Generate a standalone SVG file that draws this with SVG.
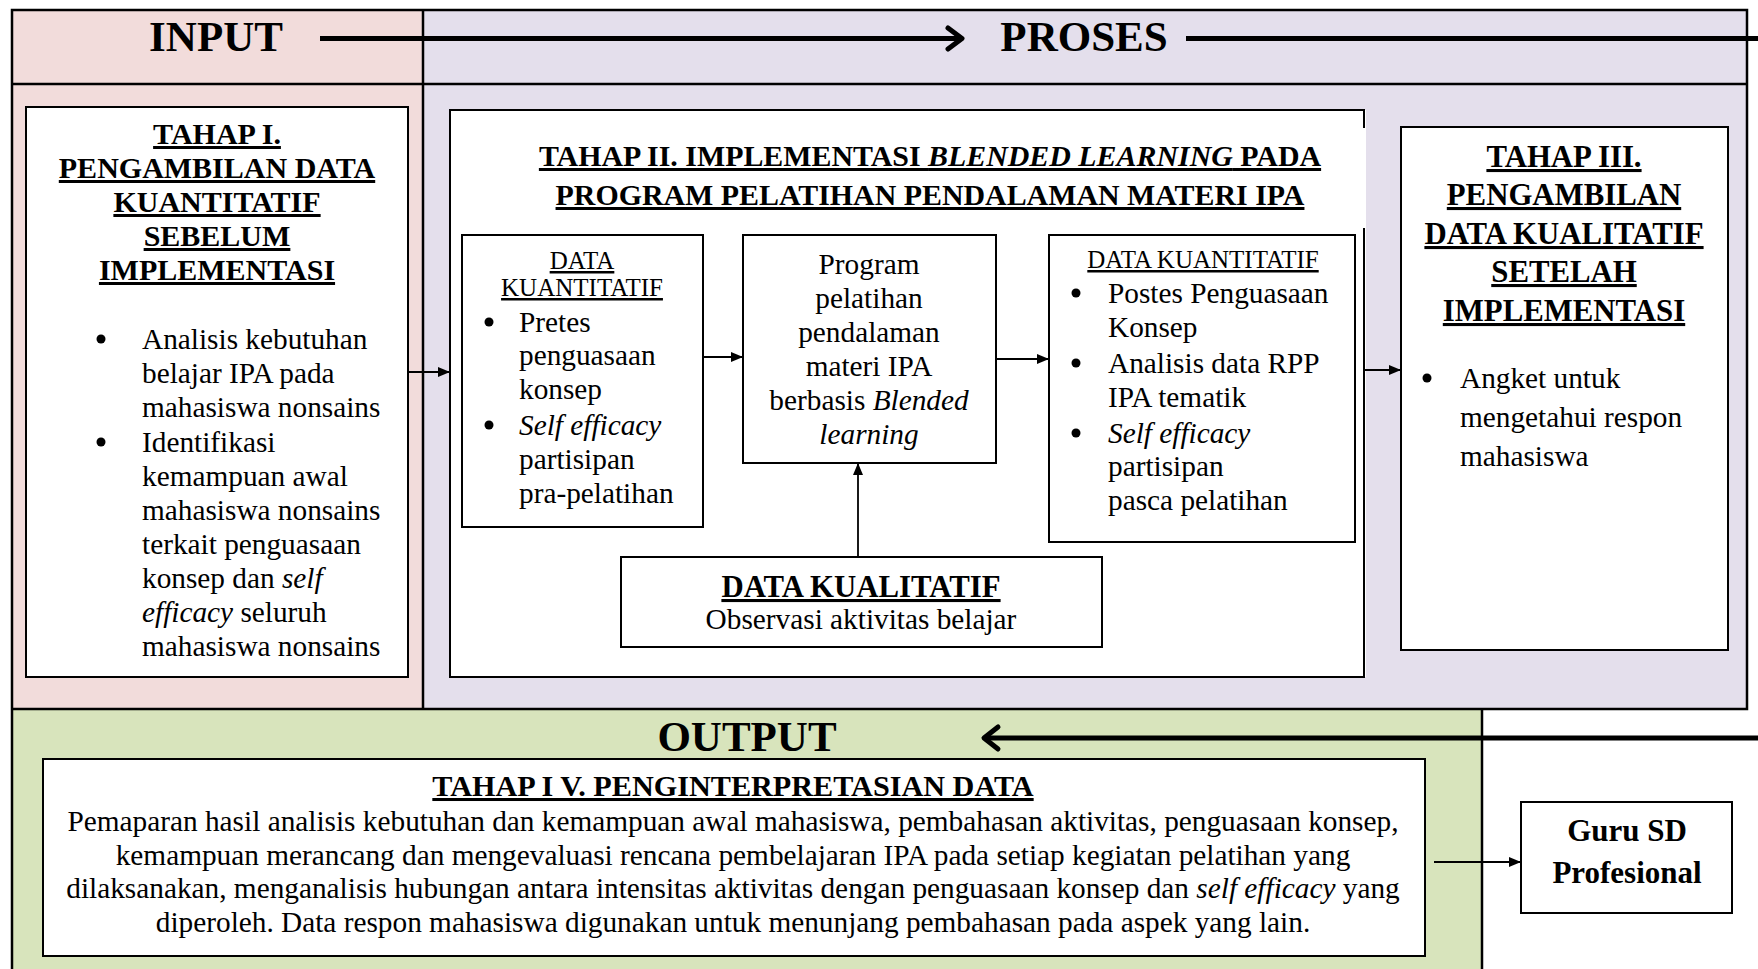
<svg xmlns="http://www.w3.org/2000/svg" width="1758" height="969" viewBox="0 0 1758 969">
<defs>
<style>
text{font-family:"Liberation Serif","Times New Roman",serif;fill:#000}
.b{font-weight:bold}
.u{text-decoration:underline}
.i{font-style:italic}
.t29{font-size:29.3px}
.t25{font-size:25px}
.hd{font-size:43px;font-weight:bold}
.dot{fill:#000}
.box{fill:#fff;stroke:#000;stroke-width:2}
.frame{fill:none;stroke:#000;stroke-width:2.5}
.conn{fill:none;stroke:#000;stroke-width:1.8}
.thick{fill:none;stroke:#000;stroke-width:5}
.chev{fill:none;stroke:#000;stroke-width:5;stroke-linecap:round;stroke-linejoin:round}
</style>
<marker id="ah" viewBox="0 0 12 10" refX="12" refY="5" markerWidth="12" markerHeight="10" markerUnits="userSpaceOnUse" orient="auto">
<path d="M0,0 L12,5 L0,10 z" fill="#000"/>
</marker>
</defs>

<g id="background">
<rect x="12" y="10" width="411" height="699" fill="#F2DCDB"/>
<rect x="423" y="10" width="1324" height="699" fill="#E4DFEC"/>
<rect x="12" y="709" width="1470" height="260" fill="#D8E4BC"/>
<path class="frame" d="M12,969 L12,10 L1747,10 L1747,709 L12,709 M12,84 L1747,84 M423,10 L423,709 M1482,709 L1482,969"/>
</g>

<g id="header">
<text class="hd" x="216" y="51" text-anchor="middle">INPUT</text>
<text class="hd" x="1084" y="51" text-anchor="middle">PROSES</text>
<text class="hd" x="747" y="751" text-anchor="middle">OUTPUT</text>
</g>

<g id="tahap1">
<rect class="box" x="26" y="107" width="382" height="570"/>
<g class="b u" font-size="30" text-anchor="middle">
<text x="217" y="144">TAHAP I.</text>
<text x="217" y="178">PENGAMBILAN DATA</text>
<text x="217" y="212">KUANTITATIF</text>
<text x="217" y="246">SEBELUM</text>
<text x="217" y="280">IMPLEMENTASI</text>
</g>
<circle class="dot" cx="101" cy="339" r="4.5"/>
<circle class="dot" cx="101" cy="442" r="4.5"/>
<g class="t29">
<text x="142" y="349">Analisis kebutuhan</text>
<text x="142" y="383">belajar IPA pada</text>
<text x="142" y="417">mahasiswa nonsains</text>
<text x="142" y="452">Identifikasi</text>
<text x="142" y="486">kemampuan awal</text>
<text x="142" y="520">mahasiswa nonsains</text>
<text x="142" y="554">terkait penguasaan</text>
<text x="142" y="588">konsep dan <tspan class="i">self</tspan></text>
<text x="142" y="622"><tspan class="i">efficacy</tspan> seluruh</text>
<text x="142" y="656">mahasiswa nonsains</text>
</g>
</g>

<g id="tahap2">
<rect x="450" y="110" width="916" height="567" fill="#fff"/>
<path d="M1364,128 L1364,110 L450,110 L450,677 L1364,677 L1364,228" fill="none" stroke="#000" stroke-width="2"/>
<text class="b u" font-size="29.9" x="930" y="166" text-anchor="middle">TAHAP II. IMPLEMENTASI <tspan class="i">BLENDED LEARNING</tspan> PADA</text>
<text class="b u" font-size="29.9" x="930" y="205" text-anchor="middle">PROGRAM PELATIHAN PENDALAMAN MATERI IPA</text>
</g>

<g id="kuant-pre">
<rect class="box" x="462" y="235" width="241" height="292"/>
<text class="t25 u" x="582" y="269" text-anchor="middle">DATA</text>
<text class="t25 u" x="582" y="296" text-anchor="middle">KUANTITATIF</text>
<circle class="dot" cx="489" cy="322" r="4.5"/>
<circle class="dot" cx="489" cy="425" r="4.5"/>
<g class="t29">
<text x="519" y="332">Pretes</text>
<text x="519" y="365">penguasaan</text>
<text x="519" y="399">konsep</text>
<text x="519" y="435" class="i">Self efficacy</text>
<text x="519" y="469">partisipan</text>
<text x="519" y="503">pra-pelatihan</text>
</g>
</g>

<g id="program">
<rect class="box" x="743" y="235" width="253" height="228"/>
<g class="t29" text-anchor="middle">
<text x="869" y="274">Program</text>
<text x="869" y="308">pelatihan</text>
<text x="869" y="342">pendalaman</text>
<text x="869" y="376">materi IPA</text>
<text x="869" y="410">berbasis <tspan class="i">Blended</tspan></text>
<text x="869" y="444" class="i">learning</text>
</g>
</g>

<g id="kuant-post">
<rect class="box" x="1049" y="235" width="306" height="307"/>
<text class="t25 u" x="1203" y="268" text-anchor="middle">DATA KUANTITATIF</text>
<circle class="dot" cx="1076" cy="293" r="4.5"/>
<circle class="dot" cx="1076" cy="363" r="4.5"/>
<circle class="dot" cx="1076" cy="433" r="4.5"/>
<g class="t29">
<text x="1108" y="303">Postes Penguasaan</text>
<text x="1108" y="337">Konsep</text>
<text x="1108" y="373">Analisis data RPP</text>
<text x="1108" y="407">IPA tematik</text>
<text x="1108" y="443" class="i">Self efficacy</text>
<text x="1108" y="476">partisipan</text>
<text x="1108" y="510">pasca pelatihan</text>
</g>
</g>

<g id="kualitatif">
<rect class="box" x="621" y="557" width="481" height="90"/>
<text class="b u" font-size="30.8" x="861" y="597" text-anchor="middle">DATA KUALITATIF</text>
<text class="t29" x="861" y="629" text-anchor="middle">Observasi aktivitas belajar</text>
</g>

<g id="tahap3">
<rect class="box" x="1401" y="127" width="327" height="523"/>
<g class="b u" font-size="30.8" text-anchor="middle">
<text x="1564" y="167">TAHAP III.</text>
<text x="1564" y="205">PENGAMBILAN</text>
<text x="1564" y="244">DATA KUALITATIF</text>
<text x="1564" y="282">SETELAH</text>
<text x="1564" y="321">IMPLEMENTASI</text>
</g>
<circle class="dot" cx="1427" cy="378" r="4.5"/>
<g class="t29">
<text x="1460" y="388">Angket untuk</text>
<text x="1460" y="427">mengetahui respon</text>
<text x="1460" y="466">mahasiswa</text>
</g>
</g>

<g id="tahap4">
<rect class="box" x="43" y="759" width="1382" height="197"/>
<text class="b u" font-size="30.2" x="733" y="796" text-anchor="middle">TAHAP I V. PENGINTERPRETASIAN DATA</text>
<g class="t29" text-anchor="middle">
<text x="733" y="831">Pemaparan hasil analisis kebutuhan dan kemampuan awal mahasiswa, pembahasan aktivitas, penguasaan konsep,</text>
<text x="733" y="865">kemampuan merancang dan mengevaluasi rencana pembelajaran IPA pada setiap kegiatan pelatihan yang</text>
<text x="733" y="898">dilaksanakan, menganalisis hubungan antara intensitas aktivitas dengan penguasaan konsep dan <tspan class="i">self efficacy</tspan> yang</text>
<text x="733" y="932">diperoleh. Data respon mahasiswa digunakan untuk menunjang pembahasan pada aspek yang lain.</text>
</g>
</g>

<g id="guru">
<rect class="box" x="1521" y="802" width="211" height="111"/>
<text class="b" font-size="31" x="1627" y="841" text-anchor="middle">Guru SD</text>
<text class="b" font-size="31" x="1627" y="883" text-anchor="middle">Profesional</text>
</g>

<g id="connectors">
<line class="thick" x1="320" y1="38.5" x2="960" y2="38.5"/>
<polyline class="chev" points="948,28 962,38.5 948,49"/>
<line class="thick" x1="1186" y1="38.5" x2="1758" y2="38.5"/>
<line class="thick" x1="1758" y1="738" x2="986" y2="738"/>
<polyline class="chev" points="998,727 984,738 998,749"/>
<line class="conn" x1="408" y1="372" x2="450" y2="372" marker-end="url(#ah)"/>
<line class="conn" x1="703" y1="357" x2="743" y2="357" marker-end="url(#ah)"/>
<line class="conn" x1="996" y1="359" x2="1049" y2="359" marker-end="url(#ah)"/>
<line class="conn" x1="1364" y1="370" x2="1401" y2="370" marker-end="url(#ah)"/>
<line class="conn" x1="858" y1="557" x2="858" y2="463" marker-end="url(#ah)"/>
<line class="conn" x1="1434" y1="862" x2="1521" y2="862" marker-end="url(#ah)"/>
</g>
</svg>
